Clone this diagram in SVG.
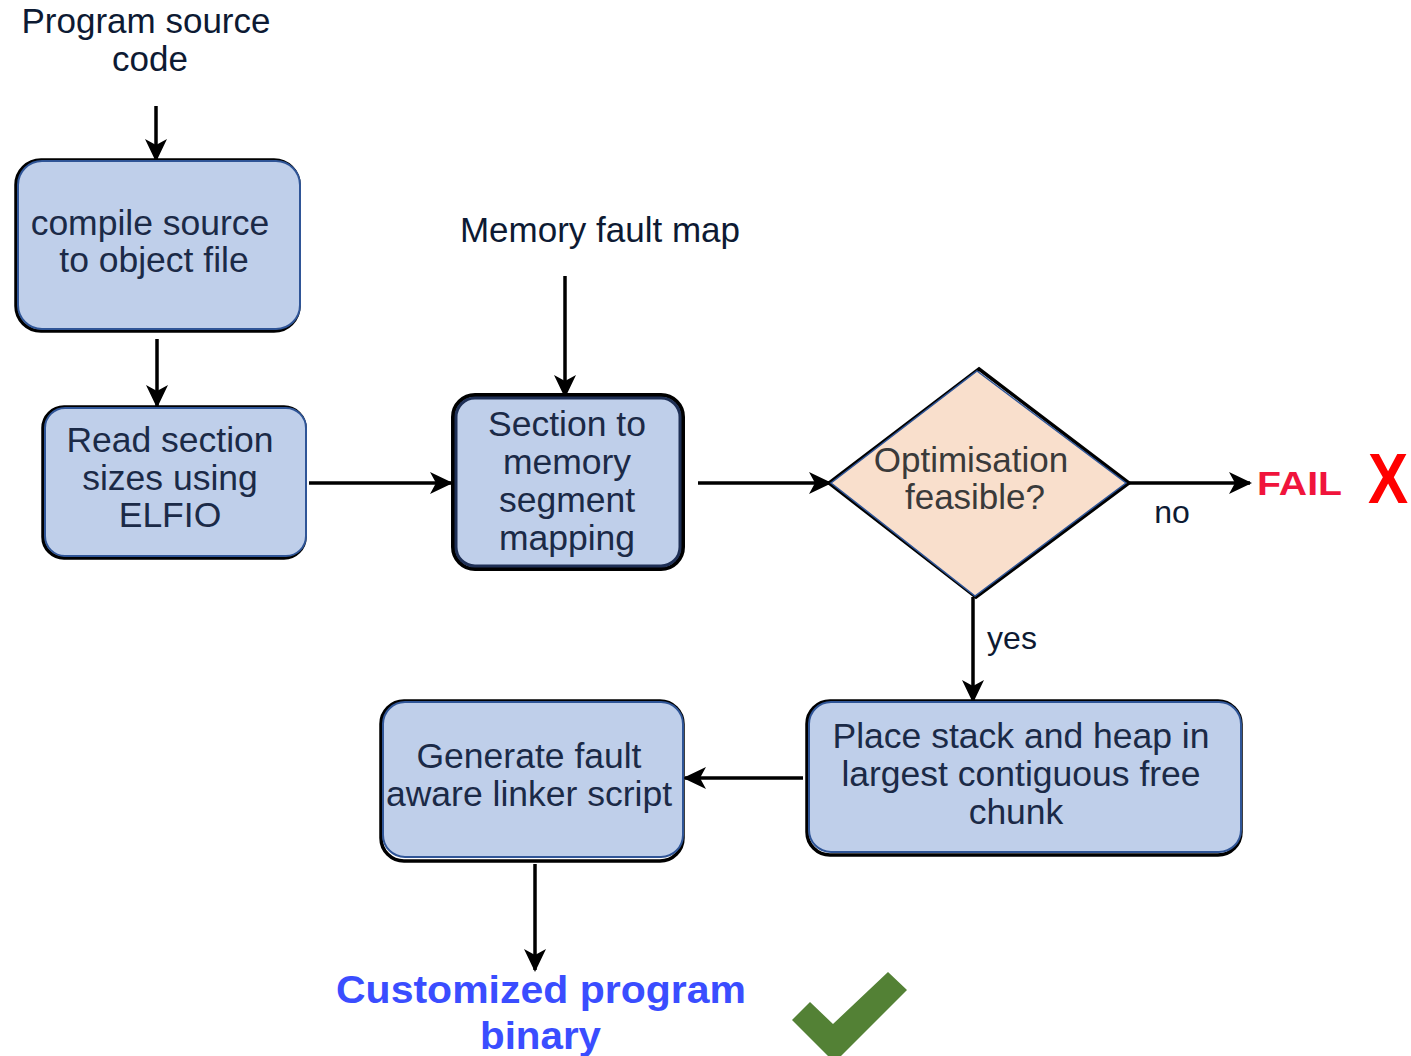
<svg xmlns="http://www.w3.org/2000/svg" width="1411" height="1056" viewBox="0 0 1411 1056">
  <style>
    .shadow { fill: none; stroke: #000; stroke-width: 3.5; }
    .box { fill: #bfcfea; stroke: #2f5597; stroke-width: 2; }
    .t { font-family: "Liberation Sans", Arial, sans-serif; font-size: 35.5px; fill: #1b2a47; text-anchor: middle; }
    .lbl { font-family: "Liberation Sans", Arial, sans-serif; font-size: 35px; fill: #0d1a33; text-anchor: middle; }
    .dt { font-family: "Liberation Sans", Arial, sans-serif; font-size: 35px; fill: #3a3a3a; text-anchor: middle; }
    .bold { font-family: "Liberation Sans", Arial, sans-serif; font-weight: bold; }
    .edge { stroke: #000; stroke-width: 3.5; fill: none; marker-end: url(#arrow); }
  </style>
  <defs>
    <marker id="arrow" markerUnits="userSpaceOnUse" markerWidth="26" markerHeight="24" refX="21" refY="11" orient="auto">
      <path d="M0,0 L23,11 L0,22 L6,11 Z" fill="#000"/>
    </marker>
  </defs>

  <rect width="1411" height="1056" fill="#fff"/>

  <!-- free-standing labels -->
  <text class="lbl" x="146" y="33">Program source</text>
  <text class="lbl" x="150" y="71">code</text>
  <text class="lbl" x="600" y="242">Memory fault map</text>
  <text class="lbl" x="1172" y="523" style="font-size:32px">no</text>
  <text class="lbl" x="1012" y="649" style="font-size:32px">yes</text>

  <!-- connectors -->
  <g id="connectors">
    <line class="edge" x1="156" y1="106" x2="156" y2="160"/>
    <line class="edge" x1="157" y1="339" x2="157" y2="406"/>
    <line class="edge" x1="565" y1="276" x2="565" y2="396"/>
    <line class="edge" x1="309" y1="483" x2="451" y2="483"/>
    <line class="edge" x1="698" y1="483" x2="830" y2="483"/>
    <line class="edge" x1="1128" y1="483" x2="1250" y2="483"/>
    <line class="edge" x1="973" y1="597" x2="973" y2="701"/>
    <line class="edge" x1="803" y1="778" x2="685" y2="778"/>
    <line class="edge" x1="535" y1="864" x2="535" y2="970"/>
  </g>

  <g id="compile">
    <rect class="shadow" x="16" y="160" width="283" height="171" rx="25"/>
    <rect class="box" x="18" y="161" width="282" height="168" rx="24"/>
    <text class="t" x="150" y="235">compile source</text>
    <text class="t" x="154" y="272">to object file</text>
  </g>

  <g id="read-sections">
    <rect class="shadow" x="43" y="407" width="262" height="151" rx="21"/>
    <rect class="box" x="45" y="408" width="261" height="148" rx="20"/>
    <text class="t" x="170" y="452">Read section</text>
    <text class="t" x="170" y="490">sizes using</text>
    <text class="t" x="170" y="527">ELFIO</text>
  </g>

  <g id="segment-mapping">
    <rect x="453" y="395" width="230" height="174" rx="22" fill="none" stroke="#000" stroke-width="4"/>
    <rect x="456" y="398" width="224" height="168" rx="19" fill="#bfcfea" stroke="#1e2f55" stroke-width="3"/>
    <text class="t" x="567" y="436">Section to</text>
    <text class="t" x="567" y="474">memory</text>
    <text class="t" x="567" y="512">segment</text>
    <text class="t" x="567" y="550">mapping</text>
  </g>

  <g id="feasible">
    <polygon points="979,369 1129,483 976,597 829,483" fill="none" stroke="#000" stroke-width="3.5"/>
    <polygon points="977,371 1126,483 975,596 831,483" fill="#f9dfcc" stroke="#2f5597" stroke-width="1.5"/>
    <text class="dt" x="971" y="472">Optimisation</text>
    <text class="dt" x="975" y="509">feasible?</text>
  </g>

  <g id="fail">
    <text class="bold" x="1257" y="495" font-size="34" fill="#f0143c" textLength="85" lengthAdjust="spacingAndGlyphs">FAIL</text>
    <text class="bold" x="1388" y="503" text-anchor="middle" font-size="70" fill="#ff0000" transform="translate(1388 0) scale(0.86 1) translate(-1388 0)">X</text>
  </g>

  <g id="place-stack">
    <rect class="shadow" x="807" y="701" width="434" height="154" rx="23"/>
    <rect class="box" x="809" y="702" width="432" height="150" rx="22"/>
    <text class="t" x="1021" y="748">Place stack and heap in</text>
    <text class="t" x="1021" y="786">largest contiguous free</text>
    <text class="t" x="1016" y="824">chunk</text>
  </g>

  <g id="linker-script">
    <rect class="shadow" x="381" y="701" width="302" height="160" rx="23"/>
    <rect class="box" x="383" y="702" width="300" height="155" rx="22"/>
    <text class="t" x="529" y="768">Generate fault</text>
    <text class="t" x="529" y="806">aware linker script</text>
  </g>

  <g id="binary">
    <text class="bold" x="336" y="1003" font-size="39" fill="#3a4dff" textLength="410" lengthAdjust="spacingAndGlyphs">Customized program</text>
    <text class="bold" x="480" y="1049" font-size="39" fill="#3a4dff" textLength="121" lengthAdjust="spacingAndGlyphs">binary</text>
    <polygon points="792,1020 810,1002 833,1024 888,972 907,990 834.5,1062.5" fill="#538135"/>
  </g>
</svg>
